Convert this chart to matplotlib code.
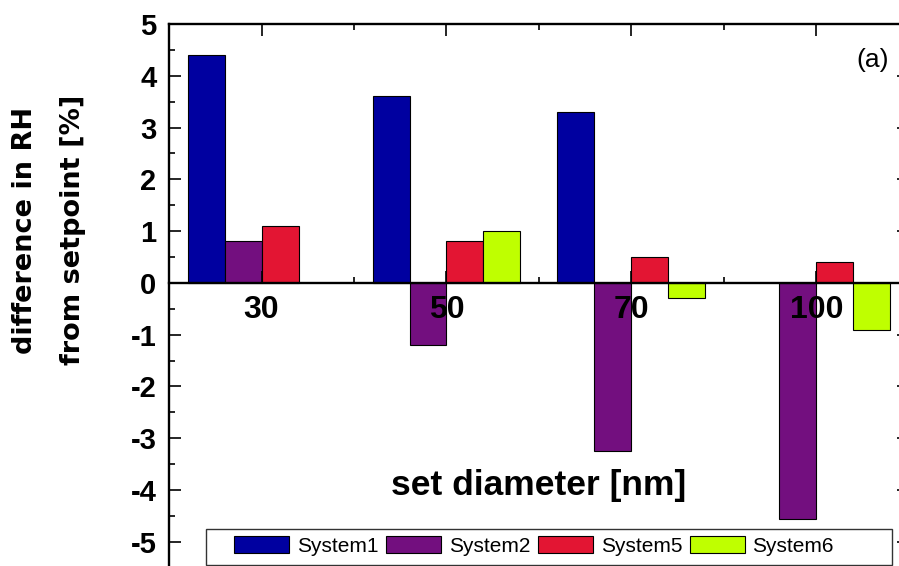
import numpy as np
import matplotlib
matplotlib.use("Agg")
import matplotlib.pyplot as plt
from matplotlib.patches import Rectangle
from matplotlib.ticker import FixedLocator, FuncFormatter

plt.rcParams["axes.unicode_minus"] = False
plt.rcParams["font.family"] = ["Liberation Sans", "DejaVu Sans"]

# Data: difference in RH from setpoint [%] per set diameter
categories = ["30", "50", "70", "100"]
series_names = ["System1", "System2", "System5", "System6"]
system1 = [4.4, 3.6, 3.3, np.nan]
system2 = [0.8, -1.2, -3.25, -4.55]
system5 = [1.1, 0.8, 0.5, 0.4]
system6 = [np.nan, 1.0, -0.3, -0.9]
colors = ["#0000A0", "#730F7F", "#E31533", "#BFFF00"]

fig = plt.figure(figsize=(8.99, 5.66), dpi=100)
ax = fig.add_axes([0.1880, -0.0030, 0.8231, 0.9606])

x = np.arange(len(categories))
width = 0.2
offsets = [-1.5, -0.5, 0.5, 1.5]
handles = []
for vals, name, col, off in zip([system1, system2, system5, system6],
                                series_names, colors, offsets):
    vals = np.asarray(vals, dtype=float)
    ok = ~np.isnan(vals)
    b = ax.bar(x[ok] + off * width, vals[ok], width, color=col,
               edgecolor="black", linewidth=0.8, label=name, zorder=1)
    handles.append(b)

ax.set_xlim(-0.5, 3.5)
ax.set_ylim(-5.5, 5)

# Spines: horizontal axis through zero
for s in ax.spines.values():
    s.set_linewidth(1.7)
ax.spines["bottom"].set_position(("data", 0))

ax.xaxis.set_major_locator(FixedLocator(x))
ax.xaxis.set_minor_locator(FixedLocator(np.arange(-0.5, 3.6, 1.0)))
ax.set_xticklabels(categories, fontsize=23, fontweight="bold")
ax.yaxis.set_major_locator(FixedLocator(np.arange(-5, 6, 1)))
ax.yaxis.set_minor_locator(FixedLocator(np.arange(-5.5, 5.1, 0.5)))
ax.yaxis.set_major_formatter(FuncFormatter(lambda v, p: "%d" % round(v)))
ax.tick_params(axis="y", labelsize=21)
for lab in ax.get_yticklabels():
    lab.set_fontweight("bold")

ax.tick_params(which="both", direction="in", top=True, right=True, width=1.2)
ax.tick_params(which="major", length=8.5)
ax.tick_params(which="minor", length=4.5)
ax.tick_params(axis="x", which="major", pad=9)
ax.tick_params(axis="y", which="major", pad=9)
ax.set_axisbelow("line")

# Axis titles
fig.text(538.5 / 899, 1 - 486 / 566, "set diameter [nm]", fontsize=25.5,
         fontweight="bold", ha="center", va="center")
fig.text(49 / 899, 1 - 230 / 566, "difference in RH\nfrom setpoint [%]",
         rotation=90, fontsize=19.5, fontweight="bold", ha="center",
         va="center", multialignment="center", family="DejaVu Sans",
         linespacing=2.1)
fig.text(889 / 899, 1 - 60 / 566, "(a)", fontsize=19, ha="right",
         va="center")

# Legend with a framed box
fig.patches.append(Rectangle((206 / 899, 1 - 565 / 566), 686 / 899,
                             36 / 566, transform=fig.transFigure,
                             facecolor="white", edgecolor="#333333",
                             linewidth=1.0, zorder=3))
leg = fig.legend(handles=handles, labels=series_names, ncol=4,
                 loc="center left", bbox_to_anchor=(234 / 899, 1 - 546 / 566),
                 frameon=False, fontsize=15, handlelength=2.64,
                 handleheight=0.91, handletextpad=0.38, columnspacing=0.36,
                 borderpad=0, borderaxespad=0)
leg.set_zorder(4)

fig.savefig("out.png", dpi=100)
